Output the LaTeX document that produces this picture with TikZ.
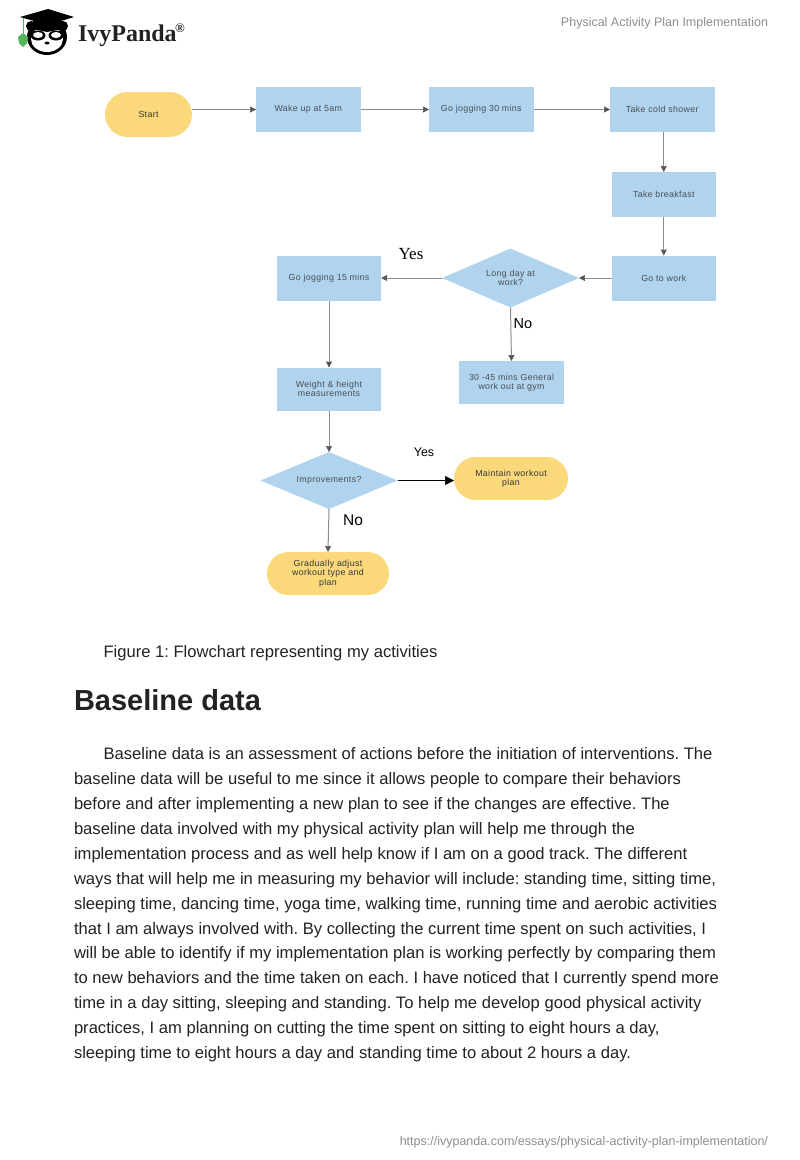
\documentclass[tikz,border=0pt]{standalone}
\usepackage{fontspec}
\setmainfont{Liberation Sans}
\newfontfamily\serifname{Liberation Serif}
\newfontfamily\flowfont[LetterSpace=4]{Liberation Sans}
\definecolor{boxblue}{RGB}{176,212,238}
\definecolor{pillyellow}{RGB}{251,216,122}
\definecolor{inkgray}{RGB}{72,78,84}
\definecolor{linegray}{RGB}{140,140,140}
\definecolor{tipgray}{RGB}{85,85,85}
\definecolor{bodyblack}{RGB}{34,34,34}
\definecolor{pagegray}{RGB}{140,140,140}
\definecolor{leafgreen}{RGB}{84,180,90}
\usetikzlibrary{positioning, shapes.geometric, shapes.misc, arrows.meta}

\begin{document}
\frenchspacing
\begin{tikzpicture}[
        x=1pt, y=1pt,
        every node/.style={outer sep=0pt, inner sep=0pt},
        box/.style={rectangle, fill=boxblue, text=inkgray, minimum width=104.5pt, minimum height=45pt, align=center, font=\flowfont\fontsize{8.8}{9.3}\selectfont},
        decision/.style={diamond, aspect=2.35, fill=boxblue, text=inkgray, minimum width=137pt, minimum height=59pt, align=center, font=\flowfont\fontsize{8.8}{9.3}\selectfont},
        pill/.style={rounded rectangle, fill=pillyellow, text=inkgray!70!black, minimum height=44pt, align=center, font=\flowfont\fontsize{8.8}{9.3}\selectfont},
        arrow/.style={-{Stealth[length=6pt, width=6pt, inset=0.5pt, color=tipgray]}, draw=linegray, line width=1pt},
        answer/.style={text=black, font=\fontsize{14.5}{16}\selectfont},
        pagetext/.style={text=pagegray, font=\fontsize{12.5}{14}\selectfont}
    ]
        \useasboundingbox (0,0) rectangle (800,-1160);

        % Logo
        \fill[black] (47,-37) circle[x radius=20, y radius=18];
        \fill[black] (31,-26) circle[radius=5];
        \fill[black] (63,-26) circle[radius=5];
        \fill[white] (47,-39) circle[x radius=16, y radius=13];
        \fill[black] (33,-20) -- (62,-20) -- (62,-29) -- (47,-32) -- (33,-29) -- cycle;
        \fill[black] (48,-9) -- (74,-17) -- (48,-25) -- (20,-17) -- cycle;
        \fill[black] (38,-35.5) circle[x radius=7.5, y radius=5];
        \fill[black] (56,-35.5) circle[x radius=7.5, y radius=5];
        \fill[white] (38,-35) circle[x radius=5, y radius=3];
        \fill[white] (56,-35) circle[x radius=5, y radius=3];
        \fill[black] (47,-43) circle[x radius=2.5, y radius=1.5];
        \draw[leafgreen, line width=0.8pt] (23,-18) -- (23,-33);
        \fill[leafgreen] (18,-37) -- (23,-33) -- (28,-37) -- (27,-43) -- (23,-47) -- (19,-43) -- cycle;
        \node[anchor=base west, text=bodyblack, font=\serifname\bfseries\fontsize{24}{26}\selectfont] (brand) at (78,-41) {IvyPanda};
        \node[anchor=base west, text=bodyblack, font=\serifname\bfseries\fontsize{13}{14}\selectfont] (mark) at (brand.base east) [xshift=-1.5pt, yshift=8.5pt] {®};

        % Page header
        \node[pagetext, anchor=base east] (header) at (768,-26) {Physical Activity Plan Implementation};

        % Top row
        \node[pill, minimum width=87pt, minimum height=45pt] (start) at (148.5,-114.5) {Start};
        \node[box, right=64pt of start, yshift=5pt] (wake) {Wake up at 5am};
        \node[box, right=68.5pt of wake] (jog30) {Go jogging 30 mins};
        \node[box, right=76.5pt of jog30] (shower) {Take cold shower};

        % Right column
        \node[box, below=40pt of shower, xshift=1.5pt] (breakfast) {Take breakfast};
        \node[box, below=38.5pt of breakfast] (work) {Go to work};

        % First decision
        \node[decision] (longday) at (510.5,-278) {Long day at\\work?};
        \node[box] (jog15) at (329,-278) {Go jogging 15 mins};
        \node[box, minimum height=43pt] (gym) at (511.5,-382.5) {30 -45 mins General\\work out at gym};
        \node[box, below=67pt of jog15, minimum height=43pt] (measure) {Weight \& height\\measurements};

        % Second decision
        \node[decision, minimum height=57pt] (improve) at (329,-480.5) {Improvements?};
        \node[pill, minimum width=114pt, minimum height=43pt] (maintain) at (511,-478.5) {Maintain workout\\plan};
        \node[pill, minimum width=122pt, minimum height=43pt] (adjust) at (328,-573.5) {Gradually adjust\\workout type and\\plan};

        % Answers
        \node[anchor=base, text=black, font=\serifname\fontsize{17}{18}\selectfont] (yes1) at (411,-259) {Yes};
        \node[answer, anchor=base] (no1) at (523,-328) {No};
        \node[anchor=base, text=black, font=\fontsize{12.5}{14}\selectfont] (yes2) at (424,-456) {Yes};
        \node[anchor=base, text=black, font=\fontsize{15.5}{16}\selectfont] (no2) at (353,-525.5) {No};

        % Arrows
        \draw[arrow] (start.east |- wake.west) -- (wake.west);
        \draw[arrow] (wake) -- (jog30);
        \draw[arrow] (jog30) -- (shower);
        \draw[arrow] (breakfast.north |- shower.south) -- (breakfast.north);
        \draw[arrow] (breakfast) -- (work);
        \draw[arrow] (work.west) -- (longday.east);
        \draw[arrow] (longday.west) -- (jog15.east);
        \draw[arrow] (longday.south) -- (gym.north);
        \draw[arrow] (jog15) -- (measure);
        \draw[arrow] (measure) -- (improve);
        \draw[-{Stealth[length=9pt, width=9pt, inset=0pt]}, draw=black, line width=0.7pt] (improve.east) -- (maintain.west |- improve.east);
        \draw[arrow] (improve.south) -- (adjust.north);

        % Document text
        \node[anchor=base west, text=bodyblack, font=\fontsize{16.6}{20}\selectfont] (caption) at (103.5,-657) {Figure 1: Flowchart representing my activities};
        \node[anchor=base west, text=bodyblack, font=\bfseries\fontsize{29}{32}\selectfont] (heading) at (74,-710) {Baseline data};
        \node[anchor=north west, text=bodyblack, align=left, font=\fontsize{16.6}{24.93}\selectfont] (body) at (74,-747.5) {%
            \hspace{29.5pt}Baseline data is an assessment of actions before the initiation of interventions. The\\
            baseline data will be useful to me since it allows people to compare their behaviors\\
            before and after implementing a new plan to see if the changes are effective. The\\
            baseline data involved with my physical activity plan will help me through the\\
            implementation process and as well help know if I am on a good track. The different\\
            ways that will help me in measuring my behavior will include: standing time, sitting time,\\
            sleeping time, dancing time, yoga time, walking time, running time and aerobic activities\\
            that I am always involved with. By collecting the current time spent on such activities, I\\
            will be able to identify if my implementation plan is working perfectly by comparing them\\
            to new behaviors and the time taken on each. I have noticed that I currently spend more\\
            time in a day sitting, sleeping and standing. To help me develop good physical activity\\
            practices, I am planning on cutting the time spent on sitting to eight hours a day,\\
            sleeping time to eight hours a day and standing time to about 2 hours a day.};

        % Page footer
        \node[pagetext, anchor=base east] (footer) at (768,-1145) {https://ivypanda.com/essays/physical-activity-plan-implementation/};
    \end{tikzpicture}
\end{document}
